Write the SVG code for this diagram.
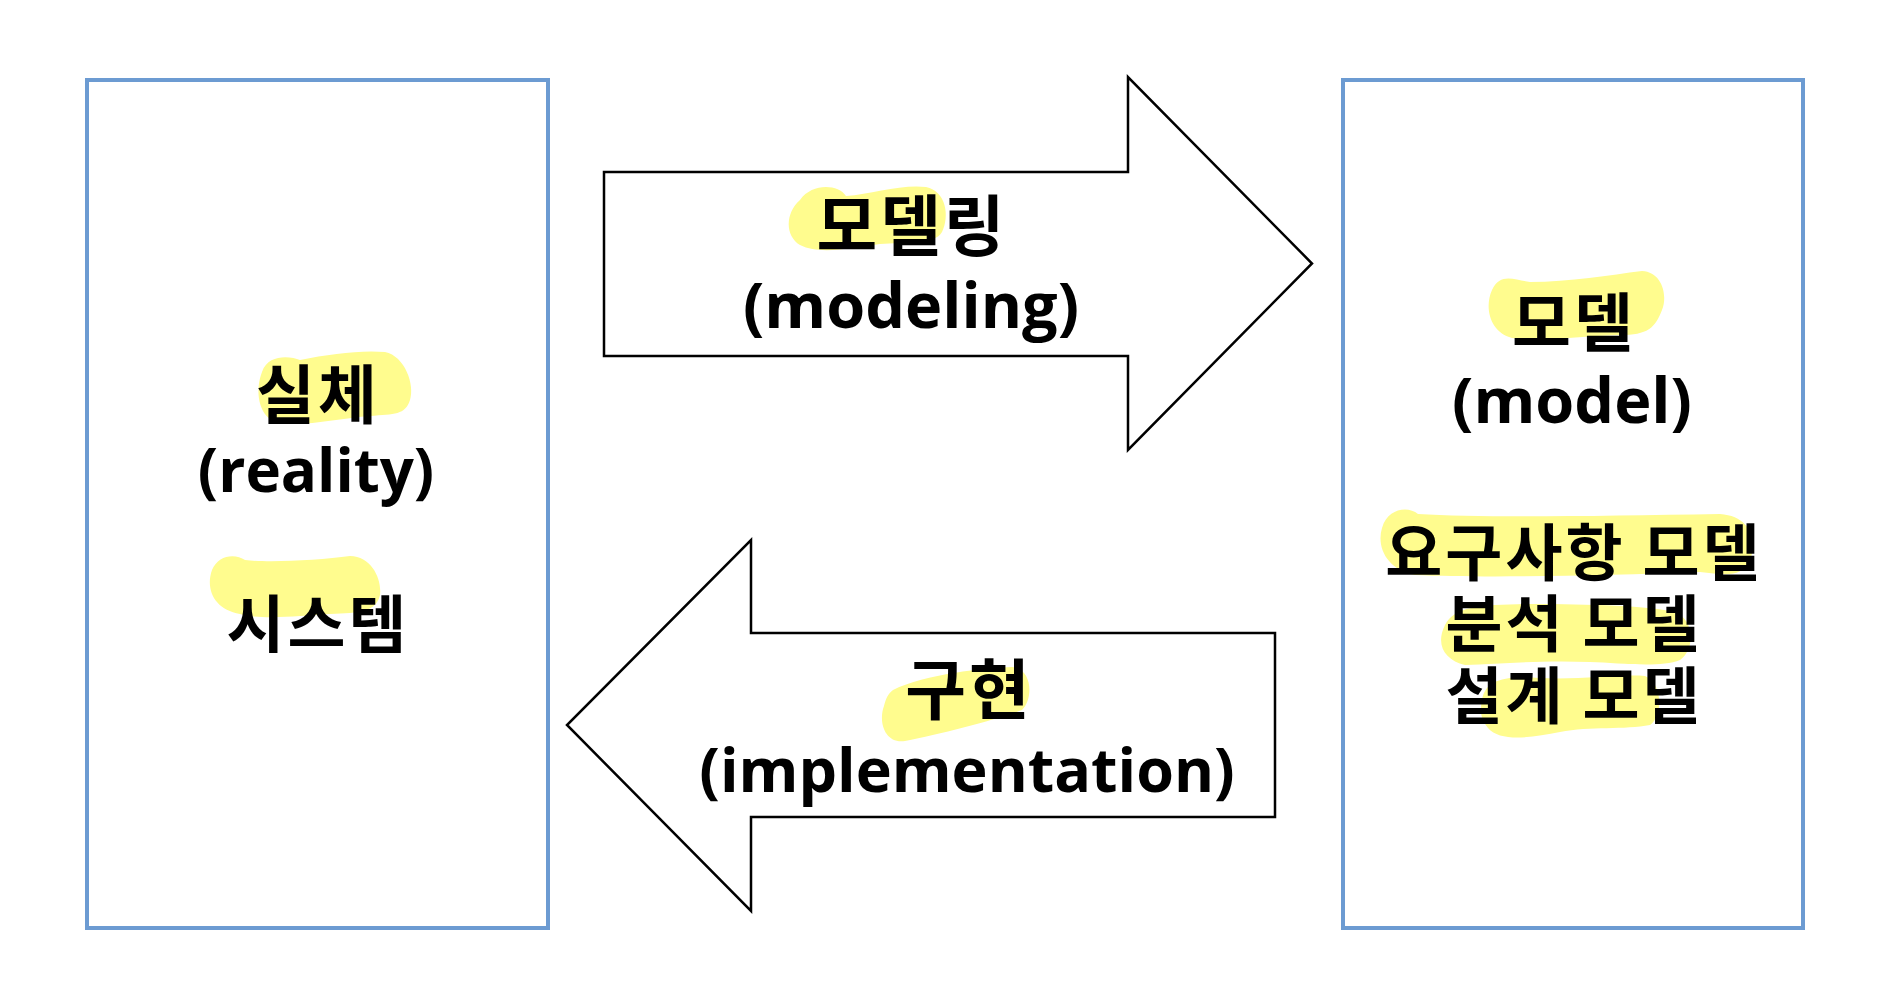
<svg xmlns="http://www.w3.org/2000/svg" width="1888" height="1000" viewBox="0 0 1888 1000">
<style>
.box{fill:#ffffff;stroke:#6C9BD2;stroke-width:4}
.arrow{fill:#ffffff;stroke:#000000;stroke-width:2.5;stroke-linejoin:miter}
.hl{fill:#FFFC8E}
.ko{font-family:"Noto Sans CJK KR","Noto Sans",sans-serif;font-weight:bold;fill:#000000;text-anchor:middle;letter-spacing:3px}
.en{font-family:"Open Sans","Noto Sans CJK KR",sans-serif;font-weight:bold;fill:#000000;text-anchor:middle}
</style>
<rect width="1888" height="1000" fill="#ffffff"/>
<g id="reality">
<rect class="box" x="87" y="80" width="461" height="848"/>
<path class="hl" d="M262,372 C268,354 290,356 300,360 C330,354 360,350 385,352 C405,356 415,385 410,400 C405,415 395,414 370,416 C340,418 300,428 275,422 C258,415 255,390 262,372 Z"/>
<path class="hl" d="M212,570 C218,555 235,553 245,560 C270,563 320,560 350,556 C372,556 382,580 380,595 C376,612 360,613 330,614 C300,616 260,620 240,614 C215,610 205,590 212,570 Z"/>
<text class="ko" x="318" y="418" font-size="64">실체</text>
<text class="en" x="316" y="492" font-size="60">(reality)</text>
<text class="ko" x="318" y="647" font-size="63">시스템</text>
</g>
<g id="model">
<rect class="box" x="1343" y="80" width="460" height="848"/>
<path class="hl" d="M1492,290 C1500,272 1515,280 1530,282 C1570,282 1610,275 1642,271 C1662,272 1668,295 1662,310 C1655,328 1648,335 1620,335 C1580,336 1540,342 1512,338 C1490,332 1484,308 1492,290 Z"/>
<path class="hl" d="M1382,528 C1388,508 1408,506 1418,514 C1480,518 1600,516 1720,514 C1750,516 1758,540 1750,560 C1742,578 1725,575 1700,572 C1600,576 1480,578 1415,575 C1388,570 1376,548 1382,528 Z"/>
<path class="hl" d="M1445,625 C1455,606 1480,605 1530,604 C1590,604 1650,606 1675,612 C1695,620 1695,650 1680,660 C1660,668 1620,663 1590,662 C1540,660 1500,664 1465,665 C1445,660 1435,645 1445,625 Z"/>
<path class="hl" d="M1482,700 C1485,682 1500,675 1540,678 C1580,680 1620,674 1645,676 C1662,682 1664,715 1650,725 C1625,730 1590,726 1560,732 C1530,738 1500,742 1488,728 C1480,718 1480,710 1482,700 Z"/>
<text class="ko" x="1574" y="346" font-size="64">모델</text>
<text class="en" x="1572" y="423" font-size="63">(model)</text>
<text class="ko" x="1574" y="576" font-size="62">요구사항 모델</text>
<text class="ko" x="1574" y="647" font-size="62">분석 모델</text>
<text class="ko" x="1574" y="719" font-size="62">설계 모델</text>
</g>
<g id="connectors">
<g id="modeling">
<path class="arrow" d="M604,172 L1128,172 L1128,77 L1312,263.5 L1128,450 L1128,356 L604,356 Z"/>
<path class="hl" d="M800,200 C812,183 838,184 846,196 C872,194 902,184 926,187 C946,191 950,216 942,232 C935,245 905,242 880,244 C850,248 820,255 800,245 C785,236 785,213 800,200 Z"/>
<text class="ko" x="912" y="250" font-size="66">모델링</text>
<text class="en" x="911" y="328" font-size="63">(modeling)</text>
</g>
<g id="implementation">
<path class="arrow" d="M1275,633 L751,633 L751,540 L567,725 L751,911 L751,817 L1275,817 Z"/>
<path class="hl" d="M893,690 C925,674 985,668 1012,667 C1032,668 1034,698 1022,710 C995,720 940,734 905,741 C885,744 878,722 884,706 C886,698 888,694 893,690 Z"/>
<text class="ko" x="969" y="714" font-size="66">구현</text>
<text class="en" x="967" y="792" font-size="61">(implementation)</text>
</g>
</g>
</svg>
